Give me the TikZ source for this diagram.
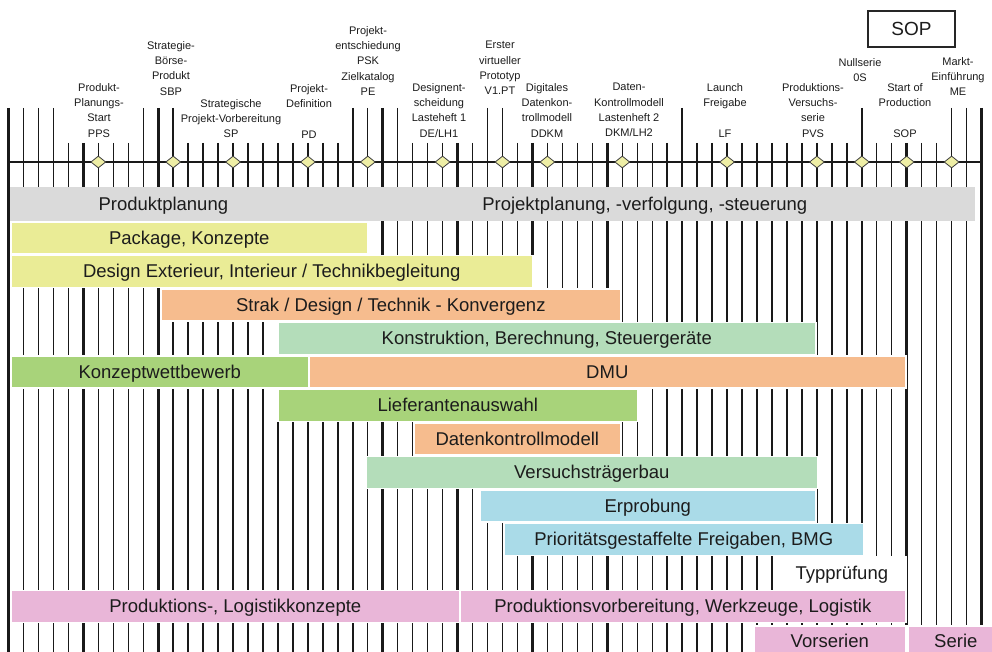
\documentclass[tikz,border=0pt]{standalone}
\usepackage{fontspec}
\setmainfont{Liberation Sans}
\usetikzlibrary{shapes.geometric}
\definecolor{cgray}{RGB}{218,218,218}
\definecolor{cyel}{RGB}{234,236,150}
\definecolor{corange}{RGB}{246,188,142}
\definecolor{cmint}{RGB}{180,221,186}
\definecolor{cgreen}{RGB}{168,211,122}
\definecolor{cblue}{RGB}{170,219,232}
\definecolor{cpink}{RGB}{233,182,216}
\definecolor{cdia}{RGB}{238,238,165}
\definecolor{ctext}{RGB}{28,28,28}
\begin{document}
\begin{tikzpicture}[x=1pt,y=-1pt,
  bar/.style={draw=white, line width=1.6pt, inner sep=0pt, anchor=north west,
    minimum height=32pt, font=\fontsize{18.5}{20}\selectfont, text=ctext,
    text height=14pt, text depth=1pt},
  lbl/.style={anchor=north, align=center, inner sep=0pt,
    font=\fontsize{11}{15.3}\selectfont, text=ctext},
  ms/.style={diamond, draw=black!75, fill=cdia, line width=0.8pt,
    minimum width=15pt, minimum height=12pt, inner sep=0pt},
  axis/.style={line width=1.3pt, black!90}]
\useasboundingbox (0,0) rectangle (992,652);
\fill[white] (0,0) rectangle (992,652);
\clip (0,0) rectangle (992,652);
% vertical grid lines
\foreach \i in {0,...,65}{
  \pgfmathtruncatemacro\m{mod(\i,5)}
  \ifnum\m=0 \def\lw{2.6pt}\else\def\lw{1.4pt}\fi
  \draw[line width=\lw, black!90] ({8.5+14.97*\i},143) -- ({8.5+14.97*\i},652);
}
\foreach \i in {0,1,2,3,9,10,11,23,24,25,26,32,33,45,57,63,64,65}{
  \pgfmathtruncatemacro\m{mod(\i,5)}
  \ifnum\m=0 \def\lw{2.6pt}\else\def\lw{1.4pt}\fi
  \draw[line width=\lw, black!90] ({8.5+14.97*\i},108) -- ({8.5+14.97*\i},144);
}
% timeline
\coordinate (tl) at (8.5,162);
\coordinate (tr) at (981.6,162);
\draw[axis] (tl) -- (tr);
% milestones
\node[ms] (dPPS) at (98.3,162) {};
\node[ms] (dSBP) at (173.2,162) {};
\node[ms] (dSP) at (233.05,162) {};
\node[ms] (dPD) at (307.9,162) {};
\node[ms] (dPE) at (367.8,162) {};
\node[ms] (dDE) at (442.6,162) {};
\node[ms] (dVPT) at (502.5,162) {};
\node[ms] (dDDKM) at (547.4,162) {};
\node[ms] (dDKM) at (622.3,162) {};
\node[ms] (dLF) at (727.1,162) {};
\node[ms] (dPVS) at (816.9,162) {};
\node[ms] (dOS) at (861.8,162) {};
\node[ms] (dSOP) at (906.7,162) {};
\node[ms] (dME) at (951.6,162) {};
% labels
\node[lbl] (lPPS) at (99,83) {Produkt-\\Planungs-\\Start\\PPS};
\node[lbl] (lSBP) at (171,41) {Strategie-\\Börse-\\Produkt\\SBP};
\node[lbl] (lSP) at (231,99) {Strategische\\Projekt-Vorbereitung\\SP};
\node[lbl] (lPD) at (309,84) {Projekt-\\Definition\\[15.3pt]PD};
\node[lbl] (lPE) at (368,26) {Projekt-\\entschiedung\\PSK\\Zielkatalog\\PE};
\node[lbl] (lDE) at (439,83) {Designent-\\scheidung\\Lasteheft 1\\DE/LH1};
\node[lbl] (lVPT) at (500,41) {Erster\\virtueller\\Prototyp\\V1.PT};
\node[lbl] (lDDKM) at (547,83) {Digitales\\Datenkon-\\trollmodell\\DDKM};
\node[lbl] (lDKM) at (629,83) {Daten-\\Kontrollmodell\\Lastenheft 2\\DKM/LH2};
\node[lbl] (lLF) at (725,83) {Launch\\Freigabe\\[15.3pt]LF};
\node[lbl] (lPVS) at (813,83) {Produktions-\\Versuchs-\\serie\\PVS};
\node[lbl] (lOS) at (860,58) {Nullserie\\0S};
\node[lbl] (lSOP) at (905,83) {Start of\\Production\\[15.3pt]SOP};
\node[lbl] (lME) at (958,57) {Markt-\\Einführung\\ME};
\node[draw=black!85, line width=1.8pt, minimum width=87pt, minimum height=36pt,
  inner sep=0pt, font=\fontsize{19}{20}\selectfont, text=ctext] (sopbox) at (911.5,29) {SOP};
% bars
\node[bar, fill=cgray, draw=cgray, minimum width=305pt] (pp) at (10,187.5) {Produktplanung};
\node[bar, fill=cgray, draw=cgray, minimum width=658pt] (pj) at (315,187.5) {Projektplanung, -verfolgung, -steuerung};
\node[bar, fill=cyel, minimum width=357pt] (pk) at (10,221) {Package, Konzepte};
\node[bar, fill=cyel, minimum width=522pt] (de) at (10,254.5) {Design Exterieur, Interieur / Technikbegleitung};
\node[bar, fill=corange, minimum width=460pt] (sk) at (160,288) {Strak / Design / Technik - Konvergenz};
\node[bar, fill=cmint, minimum width=538pt] (kb) at (277,321.5) {Konstruktion, Berechnung, Steuergeräte};
\node[bar, fill=cgreen, minimum width=298pt] (kw) at (10,355) {Konzeptwettbewerb};
\node[bar, fill=corange, minimum width=597pt] (dmu) at (308,355) {DMU};
\node[bar, fill=cgreen, minimum width=360pt] (la) at (277,388.5) {Lieferantenauswahl};
\node[bar, fill=corange, minimum width=207pt] (dk) at (413,422) {Datenkontrollmodell};
\node[bar, fill=cmint, minimum width=452pt] (vb) at (365,455.5) {Versuchsträgerbau};
\node[bar, fill=cblue, minimum width=336pt] (er) at (479,489) {Erprobung};
\node[bar, fill=cblue, minimum width=360pt] (pf) at (503,522.5) {Prioritätsgestaffelte Freigaben, BMG};
\node[bar, fill=white, minimum width=128pt] (tp) at (777,556) {Typprüfung};
\node[bar, fill=cpink, minimum width=449pt] (plk) at (10,589.5) {Produktions-, Logistikkonzepte};
\node[bar, fill=cpink, minimum width=446pt] (pv) at (459,589.5) {Produktionsvorbereitung, Werkzeuge, Logistik};
\node[bar, fill=cpink, minimum width=152pt, minimum height=30pt] (vs) at (753,625) {Vorserien};
\node[bar, fill=cpink, minimum width=96pt, minimum height=30pt] (se) at (907,625) {Serie};
\end{tikzpicture}
\end{document}
